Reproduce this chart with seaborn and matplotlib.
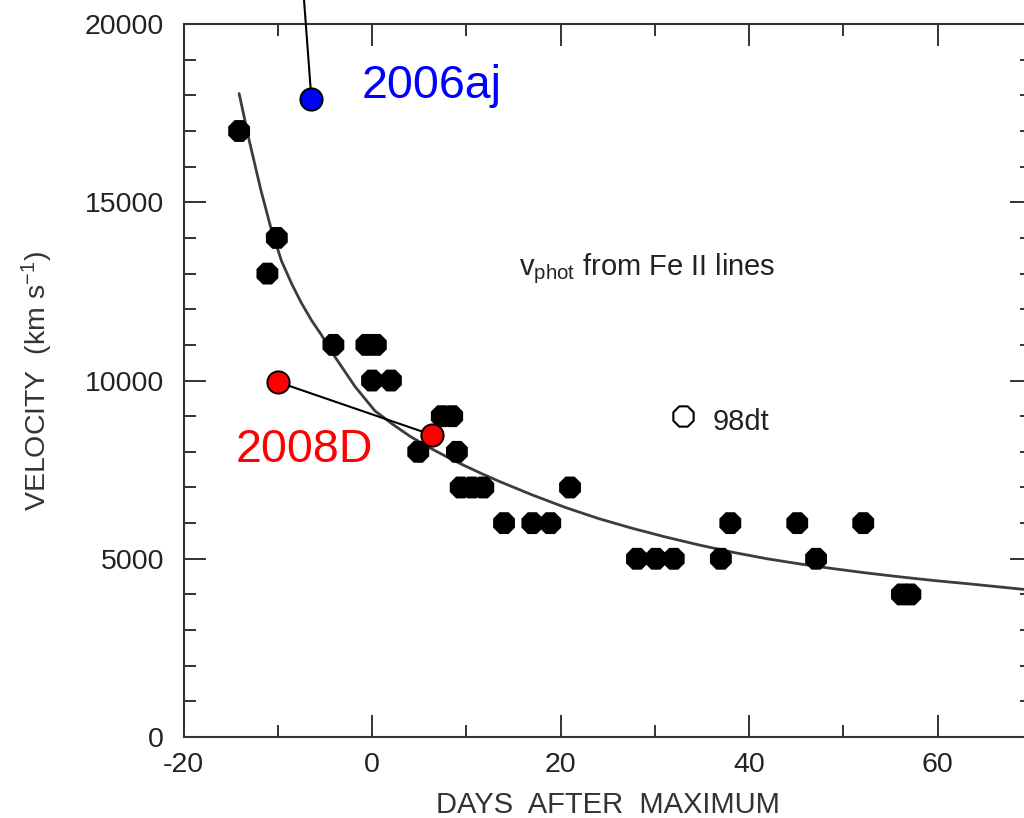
import matplotlib
matplotlib.use("Agg")
import matplotlib.pyplot as plt
import seaborn as sns
from matplotlib.ticker import MultipleLocator

# ---- data ----
fe_days = [-14.1, -11.1, -10.1, -4.1, -0.6, 0.4, 0.0, 2.0, 7.4, 8.5, 4.9, 9.0,
           9.4, 10.6, 11.8, 21.0, 14.0, 17.0, 18.9, 38.0, 45.1, 52.1,
           28.1, 30.1, 32.0, 37.0, 47.1, 56.2, 57.1]
fe_vel = [17000, 13000, 14000, 11000, 11000, 11000, 10000, 10000, 9000, 9000, 8000, 8000,
          7000, 7000, 7000, 7000, 6000, 6000, 6000, 6000, 6000, 6000,
          5000, 5000, 5000, 5000, 5000, 4000, 4000]

fit_days = [-14.1, -13.0, -11.8, -10.7, -9.6, -8.5, -7.5, -6.4, -5.4, -3.9, -1.8, 0.3,
            2.1, 4.0, 6.0, 8.0, 9.5, 11.7, 13.5, 17.0, 20.5, 24.0, 27.6, 31.0,
            34.8, 38.3, 41.9, 45.5, 49.0, 52.5, 56.1, 59.6, 63.2, 66.0, 68.8, 70.0]
fit_vel = [18050, 16700, 15350, 14250, 13350, 12700, 12180, 11680, 11290, 10650, 9830, 9150,
           8790, 8440, 8130, 7850, 7650, 7380, 7170, 6790, 6440, 6130, 5855, 5620,
           5380, 5180, 5000, 4850, 4720, 4600, 4490, 4390, 4300, 4225, 4150, 4120]

dt98_days = [33.0]
dt98_vel = [9000]

sn08d_days = [-10.0, 6.4]
sn08d_vel = [9960, 8470]

sn06aj_days = [-6.43]
sn06aj_vel = [17890]
sn06aj_line_days = [-6.43, -7.45]
sn06aj_line_vel = [17890, 21500]

x_lim = (-20, 70)
y_lim = (0, 20000)

# ---- style ----
sns.set_style("ticks")
plt.rcParams["font.family"] = ["Liberation Sans", "DejaVu Sans"]
plt.rcParams["mathtext.fontset"] = "custom"
plt.rcParams["mathtext.rm"] = "Liberation Sans"
plt.rcParams["mathtext.it"] = "Liberation Sans:italic"
plt.rcParams["mathtext.bf"] = "Liberation Sans:bold"
plt.rcParams["axes.unicode_minus"] = False

fig = plt.figure(figsize=(10.24, 8.18), dpi=100)
ax = fig.add_axes([0.1792, 0.0990, 0.8286, 0.8716])

# fitted curve
sns.lineplot(x=fit_days, y=fit_vel, sort=False, estimator=None, color="#3c3c3c",
             lw=2.0, ax=ax, zorder=2)
# Fe II velocities
sns.scatterplot(x=fe_days, y=fe_vel, marker="8", s=290, color="black",
                edgecolor="none", linewidth=0, ax=ax, zorder=3)
# 98dt open symbol
sns.scatterplot(x=dt98_days, y=dt98_vel, marker="8", s=250, color="white",
                edgecolor="black", linewidth=1.5, ax=ax, zorder=3)
# 2008D
sns.lineplot(x=sn08d_days, y=sn08d_vel, sort=False, estimator=None, color="black",
             lw=1.5, ax=ax, zorder=4)
sns.scatterplot(x=sn08d_days, y=sn08d_vel, marker="o", s=256, color="#ff0000",
                edgecolor="black", linewidth=1.4, ax=ax, zorder=5)
# 2006aj
sns.lineplot(x=sn06aj_line_days, y=sn06aj_line_vel, sort=False, estimator=None,
             color="black", lw=1.5, ax=ax, zorder=4, clip_on=False)
sns.scatterplot(x=sn06aj_days, y=sn06aj_vel, marker="o", s=256, color="#0000ff",
                edgecolor="black", linewidth=1.4, ax=ax, zorder=5, clip_on=False)

# annotations
ax.text(-1.15, 17912, "2006aj", fontsize=33.5, color="#0000ff", ha="left", va="baseline")
ax.text(-14.45, 7713, "2008D", fontsize=33.5, color="#ff0000", ha="left", va="baseline")
ax.text(36.1, 8600, "98dt", fontsize=21, color="#222222", ha="left", va="baseline")
ax.text(15.6, 12950, r"$\mathrm{v}_{\mathrm{phot}}$ from Fe II lines", fontsize=21,
        color="#222222", ha="left", va="baseline")

# axes
ax.set_xlim(*x_lim)
ax.set_ylim(*y_lim)
ax.xaxis.set_major_locator(MultipleLocator(20))
ax.xaxis.set_minor_locator(MultipleLocator(10))
ax.yaxis.set_major_locator(MultipleLocator(5000))
ax.yaxis.set_minor_locator(MultipleLocator(1000))

for sp in ax.spines.values():
    sp.set_visible(True)
    sp.set_linewidth(1.5)
    sp.set_color("#333333")

ax.tick_params(which="both", direction="in", top=True, right=True, width=1.4,
               color="#333333", labelcolor="#222222", labelsize=20.5)
ax.tick_params(which="major", length=15.6)
ax.tick_params(which="minor", length=8.3)
ax.tick_params(axis="x", which="major", pad=10.5)
ax.tick_params(axis="y", which="major", pad=14)

ax.set_xlabel("DAYS  AFTER  MAXIMUM", fontsize=21, color="#333333")
ax.set_ylabel(r"VELOCITY  (km s$^{-1}$)", fontsize=20.5, color="#333333")
ax.xaxis.set_label_coords(0.5, -0.076)
ax.yaxis.set_label_coords(-0.151, 0.5)

fig.savefig("out.png", dpi=100)
